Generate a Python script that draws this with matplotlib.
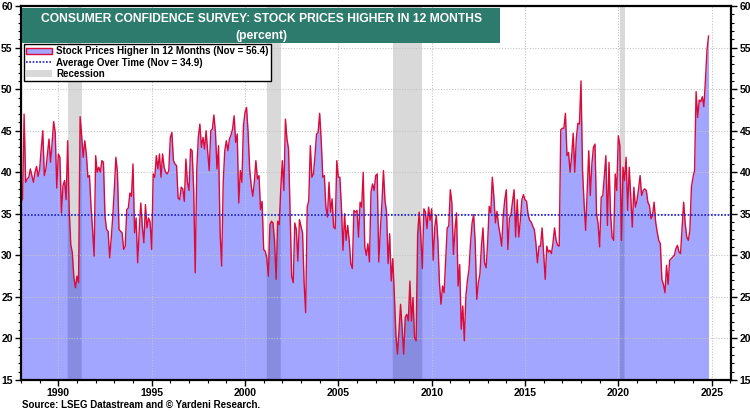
import numpy as np
import matplotlib
matplotlib.use("Agg")
import matplotlib.pyplot as plt
from matplotlib.patches import Patch, Rectangle
from matplotlib.lines import Line2D

plt.rcParams['font.family'] = ['Liberation Sans', 'DejaVu Sans']
plt.rcParams['font.weight'] = 'bold'

# monthly readings, Jan 1988 .. Nov 2024 (percent)
y1988_1995 = [
    36.3, 36.8, 47.0, 38.8, 39.2, 39.4, 40.4, 39.6, 38.8, 40.0, 40.7, 39.5,
    40.4, 42.8, 45.0, 39.6, 40.4, 42.2, 44.0, 41.2, 43.5, 46.1, 44.8, 38.1,
    42.2, 41.8, 35.1, 38.4, 39.0, 36.7, 43.8, 35.5, 31.3, 30.3, 27.3, 26.1,
    27.5, 26.7, 46.7, 44.4, 41.8, 43.8, 42.2, 39.4, 39.6, 35.9, 33.1, 29.9,
    42.0, 40.0, 40.6, 40.0, 41.4, 41.2, 34.7, 33.1, 32.9, 29.7, 32.0, 34.7,
    38.0, 41.8, 40.0, 33.1, 32.9, 32.7, 30.7, 31.1, 35.5, 35.7, 37.5, 37.1,
    41.0, 32.7, 34.5, 29.1, 33.0, 36.3, 33.5, 31.5, 36.1, 33.3, 34.5, 34.0,
    30.7, 39.8, 39.4, 42.0, 40.4, 42.2, 39.4, 42.2, 40.6, 40.0, 39.8, 40.2,
]
y1996_2003 = [
    44.2, 44.8, 41.4, 41.0, 40.8, 36.9, 36.7, 38.2, 38.0, 36.5, 41.6, 38.8,
    37.8, 42.8, 42.6, 38.0, 27.9, 40.4, 44.2, 45.8, 43.0, 44.2, 42.8, 45.0,
    42.5, 40.2, 45.0, 45.2, 46.9, 44.8, 40.4, 43.2, 32.7, 28.7, 38.8, 42.6,
    43.8, 42.6, 44.0, 44.5, 45.2, 46.8, 43.6, 44.6, 36.3, 40.2, 38.8, 45.6,
    47.2, 47.8, 44.8, 40.4, 38.4, 37.1, 38.8, 41.4, 39.2, 39.6, 35.5, 36.5,
    30.7, 30.5, 29.7, 27.5, 33.7, 34.1, 33.9, 31.7, 27.1, 34.1, 33.7, 38.0,
    41.4, 37.8, 46.4, 44.0, 42.8, 35.1, 27.5, 26.7, 33.9, 33.1, 29.3, 34.3,
    33.5, 32.7, 26.7, 23.1, 35.8, 36.6, 43.2, 39.4, 39.8, 42.0, 44.6, 44.8,
]
y2004_2011 = [
    47.1, 43.8, 39.4, 39.6, 35.8, 34.6, 38.8, 35.2, 36.8, 33.4, 33.2, 41.4,
    39.4, 39.4, 35.8, 30.6, 35.0, 31.8, 33.6, 31.8, 29.0, 28.4, 35.4, 35.2,
    35.4, 32.2, 36.4, 35.8, 40.0, 31.0, 30.0, 31.4, 29.2, 37.6, 38.6, 37.8,
    39.6, 39.8, 29.2, 33.0, 36.2, 40.2, 36.6, 35.2, 29.0, 32.6, 26.9, 29.6,
    25.3, 20.5, 18.1, 20.9, 24.1, 21.3, 18.1, 22.5, 22.9, 22.1, 26.9, 22.1,
    24.9, 20.1, 19.7, 32.6, 35.2, 32.4, 28.4, 35.6, 35.2, 33.2, 35.8, 34.2,
    35.6, 29.4, 33.4, 34.8, 31.8, 26.7, 24.1, 26.3, 25.5, 29.5, 33.3, 33.5,
    37.9, 36.3, 30.1, 33.1, 35.1, 26.3, 28.9, 21.1, 23.9, 19.7, 25.1, 27.0,
]
y2012_2017 = [
    28.3, 31.5, 33.9, 34.9, 31.5, 24.7, 26.7, 27.7, 31.1, 33.3, 29.1, 28.5,
    31.5, 35.9, 35.1, 39.4, 37.0, 33.9, 35.3, 33.6, 32.5, 31.1, 34.7, 36.7,
    37.9, 30.7, 34.5, 34.9, 36.5, 37.9, 32.2, 36.7, 32.2, 34.2, 36.7, 37.3,
    36.7, 36.5, 34.9, 34.2, 34.0, 33.5, 33.1, 31.5, 29.1, 31.1, 31.1, 33.3,
    30.2, 27.1, 31.1, 30.4, 30.6, 30.2, 31.5, 33.3, 31.8, 31.2, 31.1, 45.1,
    45.3, 45.3, 47.1, 42.0, 42.4, 40.0, 42.0, 44.7, 40.0, 44.1, 45.9, 45.8,
]
y2018_2024 = [
    51.0, 40.2, 36.2, 33.0, 37.8, 42.6, 37.2, 41.0, 43.0, 43.4, 35.0, 33.8,
    31.0, 37.0, 37.2, 39.5, 42.0, 33.6, 41.2, 35.0, 32.2, 31.8, 39.8, 37.8,
    44.4, 43.2, 31.8, 40.6, 39.0, 41.8, 35.4, 40.6, 37.0, 33.4, 38.2, 35.8,
    36.6, 38.0, 39.6, 37.2, 37.8, 38.0, 37.8, 36.4, 36.0, 34.4, 34.8, 36.4,
    34.0, 32.8, 31.8, 31.4, 27.1, 26.5, 25.5, 28.8, 26.5, 29.4, 29.6, 29.8,
    30.0, 30.8, 31.2, 30.4, 30.2, 33.2, 36.4, 33.8, 32.2, 31.8, 33.0, 38.2,
    39.4, 40.2, 49.7, 46.6, 48.7, 48.5, 49.1, 47.9, 51.1, 54.7, 56.4,
]
average = 34.9
recessions = [(1990 + 6/12, 1991 + 3/12), (2001 + 2/12, 2001 + 11/12),
              (2007 + 11/12, 2009 + 6/12), (2020 + 1/12, 2020 + 4/12)]

values = np.array(y1988_1995 + y1996_2003 + y2004_2011 + y2012_2017 + y2018_2024)
dates = 1988 + np.arange(len(values)) / 12.0

fill_c = '#a2a6ff'
line_c = '#dc0a3a'
teal = '#2d7b6d'

fig = plt.figure(figsize=(7.5, 4.12), dpi=100)
ax = fig.add_axes([0.028, 0.078, 0.947, 0.907])

for a, b in recessions:
    ax.axvspan(a, b, color='#d9d9d9', lw=0, zorder=1)

ax.fill_between(dates, 15, values, color=fill_c, lw=0, zorder=2)
in_rec = np.zeros(len(dates), bool)
for a, b in recessions:
    in_rec |= (dates >= a - 0.01) & (dates <= b + 0.01)
ax.fill_between(dates, 15, values, where=in_rec, color='#888ce0', lw=0, zorder=2.5)
ax.plot(dates, values, color=line_c, lw=1.0, zorder=4)
ax.axhline(average, color='#1a1acc', lw=1.2, ls=(0, (1, 1)), zorder=5)

ax.set_xlim(1988.0, 2026.05)
ax.set_ylim(15, 60)
ax.set_xticks(range(1990, 2026, 5))
ax.set_xticks(range(1988, 2027), minor=True)
ax.set_yticks(range(15, 61, 5))
ax.set_yticks(range(15, 61), minor=True)
ax.tick_params(which='major', direction='out', length=4, width=1, labelsize=7.5,
               right=True, labelright=True, pad=2)
ax.tick_params(which='minor', direction='out', length=2, width=0.8, right=True)
ax.grid(True, which='major', color='#c4c4c4', ls=(0, (1, 1.5)), lw=0.8, zorder=0)
ax.set_axisbelow(False)
for s in ax.spines.values():
    s.set_linewidth(1.6)
    s.set_zorder(6)

# title box
ax.add_patch(Rectangle((0.001, 0.901), 0.674, 0.094, transform=ax.transAxes,
                       facecolor=teal, edgecolor='none', zorder=7))
ax.text(0.338, 0.966, 'CONSUMER CONFIDENCE SURVEY: STOCK PRICES HIGHER IN 12 MONTHS',
        transform=ax.transAxes, ha='center', va='center', color='white',
        fontsize=8.7, fontweight='bold', zorder=8)
ax.text(0.338, 0.921, '(percent)', transform=ax.transAxes, ha='center', va='center',
        color='white', fontsize=8.7, fontweight='bold', zorder=8)

handles = [Patch(facecolor=fill_c, edgecolor=line_c, lw=1),
           Line2D([], [], color='#1a1acc', lw=1.2, ls=(0, (1, 1))),
           Patch(facecolor='#d9d9d9', edgecolor='none')]
labels = ['Stock Prices Higher In 12 Months (Nov = 56.4)',
          'Average Over Time (Nov = 34.9)',
          'Recession']
leg = ax.legend(handles, labels, loc='upper left', bbox_to_anchor=(0.004, 0.899),
                fancybox=False, framealpha=1, edgecolor='black', fontsize=7,
                borderpad=0.25, labelspacing=0.12, handlelength=2.6,
                handletextpad=0.5, borderaxespad=0)
leg.get_frame().set_linewidth(1.0)
leg.set_zorder(9)

fig.text(0.029, 0.006, 'Source: LSEG Datastream and \u00a9 Yardeni Research.',
         fontsize=7, fontweight='bold', ha='left', va='bottom')

fig.savefig('out.png', dpi=100)
